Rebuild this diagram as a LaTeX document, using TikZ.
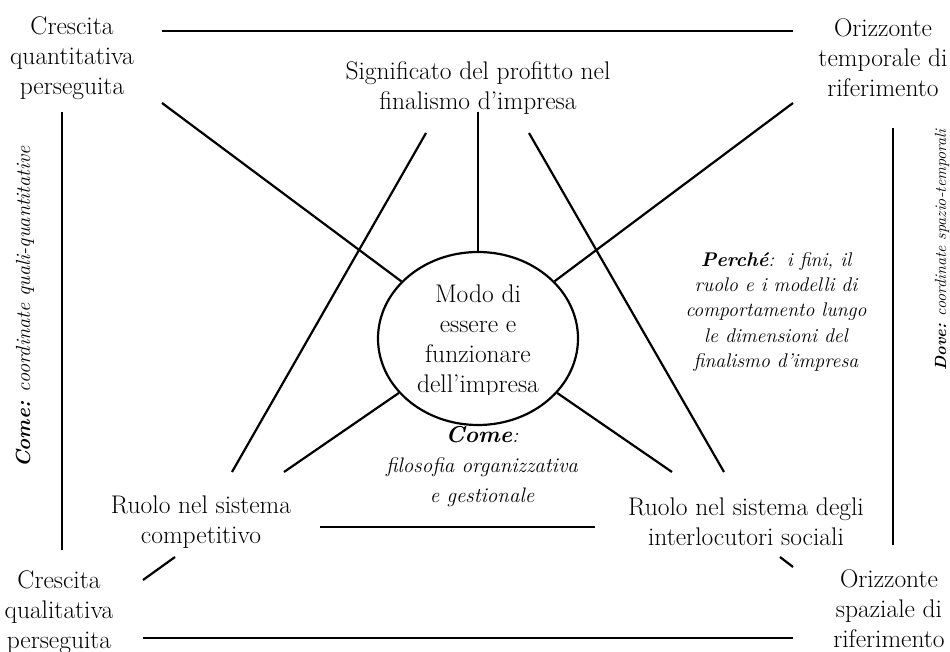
\documentclass[tikz,border=0pt]{standalone}
\usepackage{fontspec}
\usetikzlibrary{shapes.geometric}
\begin{document}
\begin{tikzpicture}[x=1pt,y=-1pt,
  lbl/.style={align=center, inner sep=0pt, font=\fontsize{25.5}{30}\selectfont},
  itl/.style={align=center, inner sep=0pt, font=\fontsize{19.8}{25.3}\selectfont\itshape},
  side/.style={inner sep=0pt, rotate=90},
  spoke/.style={line width=2.2pt},
  bar/.style={line width=2.8pt},
  post/.style={line width=2.4pt}]
\useasboundingbox (0,0) rectangle (950,652);

% central ellipse
\node[draw, ellipse, line width=2.2pt, minimum width=200pt, minimum height=173pt] (ell) at (478,338.5) {};
\begin{scope}
  \clip (360,250) rectangle (600,394);
  \node[lbl] (core) at (478,341) {Modo di\\essere e\\funzionare\\dell’impresa};
\end{scope}

% corner labels
\node[lbl] (tl) at (72,58) {Crescita\\quantitativa\\perseguita};
\node[lbl] (tr) at (883,58) {Orizzonte\\temporale di\\riferimento};
\node[lbl] (bl) at (59,612) {Crescita\\qualitativa\\perseguita};
\node[lbl] (br) at (889,609) {Orizzonte\\spaziale di\\riferimento};

% the three dimensions
\node[lbl] (top) at (478,88) {Significato del profitto nel\\finalismo d’impresa};
\node[lbl] (comp) at (201,522) {Ruolo nel sistema\\competitivo};
\node[lbl] (soc) at (746,522) {Ruolo nel sistema degli\\interlocutori sociali};

% explanatory notes
\node[itl] (why) at (776,312) {{\bfseries Perché}:\, i fini, il\\ruolo e i modelli di\\comportamento lungo\\le dimensioni del\\finalismo d’impresa};
\node[align=center, inner sep=0pt, font=\fontsize{21}{30}\selectfont\itshape] (how) at (482,467)
  {{\fontsize{23}{30}\selectfont\bfseries Come}:\\filosofia organizzativa\\e gestionale};
\node[side] (lside) at (25,307) {\fontsize{20.4}{22}\selectfont\itshape{\bfseries Come:} coordinate quali-quantitative};
\node[side] (rside) at (942,250) {\fontsize{16.2}{18}\selectfont\itshape{\bfseries Dove:} coordinate spazio-temporali};

% end points of the connectors
\coordinate (p1) at (162,103);
\coordinate (p2) at (793,103);
\coordinate (p3) at (478,112);
\coordinate (p4) at (426,133);
\coordinate (p5) at (232,472);
\coordinate (p6) at (529,133);
\coordinate (p7) at (724,472);
\coordinate (p8) at (284,472);
\coordinate (p9) at (672,472);
\coordinate (q1) at (143,580);
\coordinate (q2) at (175,557);
\coordinate (q3) at (780,557);
\coordinate (q4) at (793,567);
\coordinate (h1) at (162,31);
\coordinate (h2) at (793,31);
\coordinate (h3) at (143,638);
\coordinate (h4) at (793,638);
\coordinate (m1) at (320,527);
\coordinate (m2) at (595,527);
\coordinate (v1) at (62,112);
\coordinate (v2) at (62,550);
\coordinate (v3) at (893,128);
\coordinate (v4) at (893,545);

% spokes into the ellipse
\draw[spoke] (p1) -- (ell);
\draw[spoke] (p2) -- (ell);
\draw[spoke] (p3) -- (ell);
\draw[spoke] (p8) -- (ell);
\draw[spoke] (p9) -- (ell);
% long diagonals
\draw[spoke] (p4) -- (p5);
\draw[spoke] (p6) -- (p7);
\draw[spoke] (q1) -- (q2);
\draw[spoke] (q3) -- (q4);
% frame bars
\draw[bar] (h1) -- (h2);
\draw[bar] (h3) -- (h4);
\draw[bar] (m1) -- (m2);
\draw[post] (v1) -- (v2);
\draw[line width=2pt] (v3) -- (v4);
\end{tikzpicture}
\end{document}
